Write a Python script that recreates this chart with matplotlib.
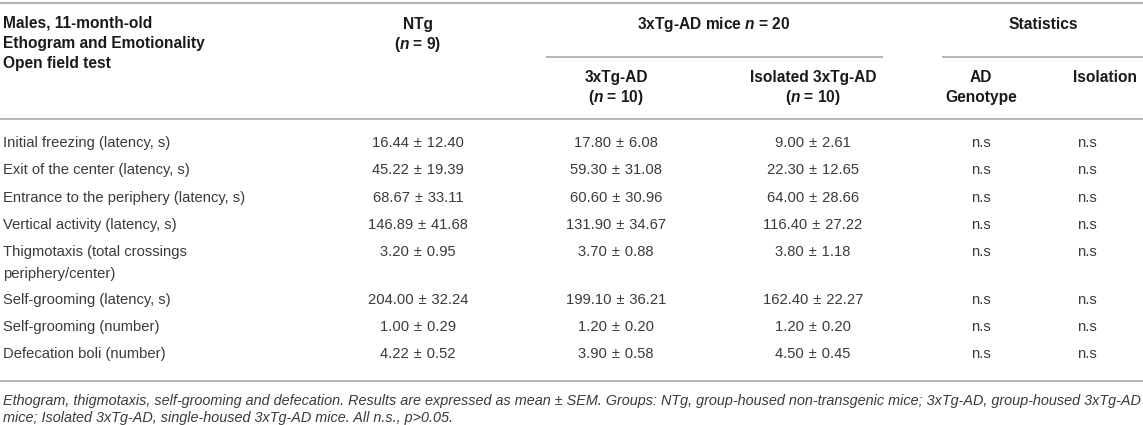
import matplotlib.pyplot as plt

plt.rcParams['font.family'] = ['Liberation Sans', 'DejaVu Sans']
plt.rcParams['mathtext.fontset'] = 'custom'
plt.rcParams['mathtext.it'] = 'Liberation Sans:italic:bold'
plt.rcParams['mathtext.rm'] = 'Liberation Sans:bold'

# table data
measures = ['Initial freezing (latency, s)', 'Exit of the center (latency, s)',
            'Entrance to the periphery (latency, s)', 'Vertical activity (latency, s)',
            'Thigmotaxis (total crossings\nperiphery/center)', 'Self-grooming (latency, s)',
            'Self-grooming (number)', 'Defecation boli (number)']
ntg_mean = [16.44, 45.22, 68.67, 146.89, 3.20, 204.00, 1.00, 4.22]
ntg_sem = [12.40, 19.39, 33.11, 41.68, 0.95, 32.24, 0.29, 0.52]
tg_mean = [17.80, 59.30, 60.60, 131.90, 3.70, 199.10, 1.20, 3.90]
tg_sem = [6.08, 31.08, 30.96, 34.67, 0.88, 36.21, 0.20, 0.58]
iso_mean = [9.00, 22.30, 64.00, 116.40, 3.80, 162.40, 1.20, 4.50]
iso_sem = [2.61, 12.65, 28.66, 27.22, 1.18, 22.27, 0.20, 0.45]
stat_genotype = ['n.s'] * 8
stat_isolation = ['n.s'] * 8

footnote = ['Ethogram, thigmotaxis, self-grooming and defecation. Results are expressed as mean ± SEM. '
            'Groups: NTg, group-housed non-transgenic mice; 3xTg-AD, group-housed 3xTg-AD',
            'mice; Isolated 3xTg-AD, single-housed 3xTg-AD mice. All n.s., p>0.05.']

W, H = 1143, 425
fig = plt.figure(figsize=(W / 100, H / 100), dpi=100)
ax = fig.add_axes([0, 0, 1, 1])
ax.set_xlim(0, W)
ax.set_ylim(H, 0)
ax.axis('off')

line_c = '#b4b4b4'
head_c = '#1a1a1a'
body_c = '#3a3a3a'
fs = 10.6
hfs = 11.2
pm = '\u2004±\u2004'

# rules
ax.hlines(3, 0, W, color=line_c, lw=1.6)
ax.hlines(57, 546, 883, color=line_c, lw=1.4)
ax.hlines(57, 942, W, color=line_c, lw=1.4)
ax.hlines(119, 0, W, color=line_c, lw=1.4)
ax.hlines(381, 0, W, color=line_c, lw=1.4)

# header
hk = dict(fontsize=hfs, color=head_c, fontweight='bold', va='center')
for j, s in enumerate(['Males, 11-month-old', 'Ethogram and Emotionality', 'Open field test']):
    ax.text(3, 23 + 20 * j, s, ha='left', **hk)
ax.text(418, 24, 'NTg', ha='center', **hk)
ax.text(418, 44, r'($\mathit{n}$ = 9)', ha='center', **hk)
ax.text(714, 24, r'3xTg-AD mice $\mathit{n}$ = 20', ha='center', **hk)
ax.text(1043, 24, 'Statistics', ha='center', **hk)
ax.text(616, 77, '3xTg-AD', ha='center', **hk)
ax.text(616, 97, r'($\mathit{n}$ = 10)', ha='center', **hk)
ax.text(813, 77, 'Isolated 3xTg-AD', ha='center', **hk)
ax.text(813, 97, r'($\mathit{n}$ = 10)', ha='center', **hk)
ax.text(981, 77, 'AD', ha='center', **hk)
ax.text(981, 97, 'Genotype', ha='center', **hk)
ax.text(1105, 77, 'Isolation', ha='center', **hk)

# body rows
bk = dict(fontsize=fs, color=body_c, va='center')
y = 143
for i, name in enumerate(measures):
    parts = name.split('\n')
    ax.text(3, y, parts[0], ha='left', **bk)
    if len(parts) > 1:
        ax.text(3, y + 22, parts[1], ha='left', **bk)
    ax.text(418, y, f'{ntg_mean[i]:.2f}{pm}{ntg_sem[i]:.2f}', ha='center', **bk)
    ax.text(616, y, f'{tg_mean[i]:.2f}{pm}{tg_sem[i]:.2f}', ha='center', **bk)
    ax.text(813, y, f'{iso_mean[i]:.2f}{pm}{iso_sem[i]:.2f}', ha='center', **bk)
    ax.text(981, y, stat_genotype[i], ha='center', **bk)
    ax.text(1087, y, stat_isolation[i], ha='center', **bk)
    y += 27.3 + (20 if len(parts) > 1 else 0)

for j, s in enumerate(footnote):
    ax.text(3, 401 + 17 * j, s, ha='left', va='center', fontsize=10.33,
            style='italic', color=body_c)

fig.savefig('out.png', dpi=100)
